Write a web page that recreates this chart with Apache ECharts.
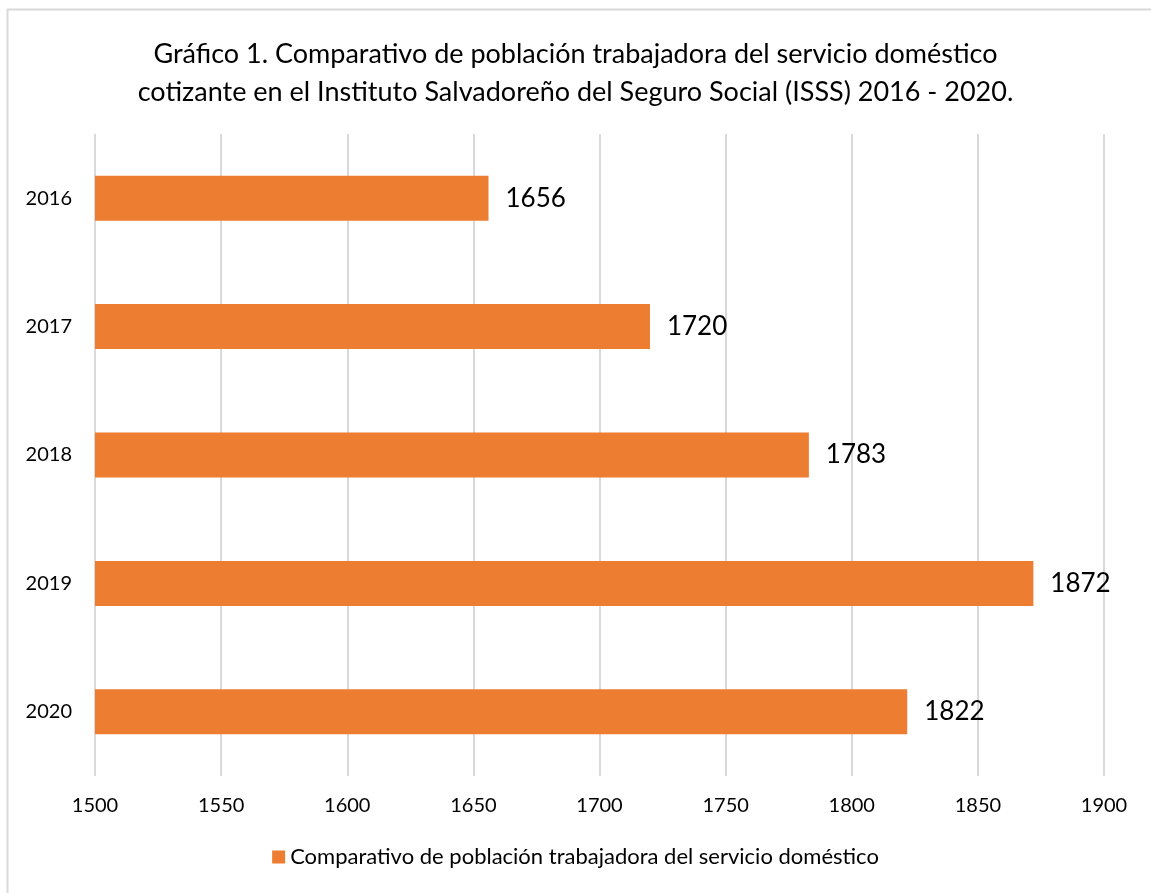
<!DOCTYPE html>
<html>
<head>
<meta charset="utf-8">
<script src="https://cdn.jsdelivr.net/npm/echarts@6/dist/echarts.min.js"></script>
<style>
  html, body { margin: 0; padding: 0; background: #fff; }
  #chart { width: 1151px; height: 893px; }
</style>
</head>
<body>
<div id="chart"></div>
<script>
  // datos del gráfico
  let years = ['2016', '2017', '2018', '2019', '2020']
  let cotizantes = [1656, 1720, 1783, 1872, 1822]
  let seriesName = 'Comparativo de población trabajadora del servicio doméstico'
  let titleText = 'Gráfico 1. Comparativo de población trabajadora del servicio doméstico\ncotizante en el Instituto Salvadoreño del Seguro Social (ISSS) 2016 - 2020.'

  let colors = ['#ED7D31', '#D9D9D9', '#000000']
  let fontName = 'Lato'

  let chart = echarts.init(document.getElementById('chart'))
  let option = {
    color: colors,
    animation: false,
    graphic: [
      {
        type: 'rect',
        shape: { x: 7.5, y: 9.5, width: 1160, height: 900 },
        style: { fill: 'none', stroke: '#D9D9D9', lineWidth: 2 }
      }
    ],
    title: {
      text: titleText,
      left: 'center',
      top: 30,
      textStyle: {
        fontFamily: fontName,
        fontSize: 27,
        fontWeight: 'normal',
        color: '#000',
        lineHeight: 38
      }
    },
    legend: {
      bottom: 20,
      left: 'center',
      itemWidth: 13,
      itemHeight: 13,
      icon: 'rect',
      itemGap: 5,
      textStyle: { fontFamily: fontName, fontSize: 22, color: '#000' },
      data: [seriesName]
    },
    grid: {
      left: 95,
      right: 47,
      top: 134,
      bottom: 117
    },
    xAxis: {
      type: 'value',
      min: 1500,
      max: 1900,
      interval: 50,
      axisLine: { show: false },
      axisTick: { show: false },
      axisLabel: {
        fontFamily: fontName,
        fontSize: 20,
        color: '#000',
        margin: 20,
        formatter: function (v) { return String(v) }
      },
      splitLine: { lineStyle: { color: colors[1], width: 2 } }
    },
    yAxis: {
      type: 'category',
      inverse: true,
      data: years,
      axisLine: { show: false },
      axisTick: { show: false },
      axisLabel: {
        fontFamily: fontName,
        fontSize: 20,
        color: '#000',
        margin: 23
      }
    },
    series: [
      {
        name: seriesName,
        type: 'bar',
        data: cotizantes,
        barWidth: 45,
        label: {
          show: true,
          position: 'right',
          distance: 17,
          fontFamily: fontName,
          fontSize: 26,
          color: '#000'
        }
      }
    ]
  }
  chart.setOption(option)
</script>
</body>
</html>
